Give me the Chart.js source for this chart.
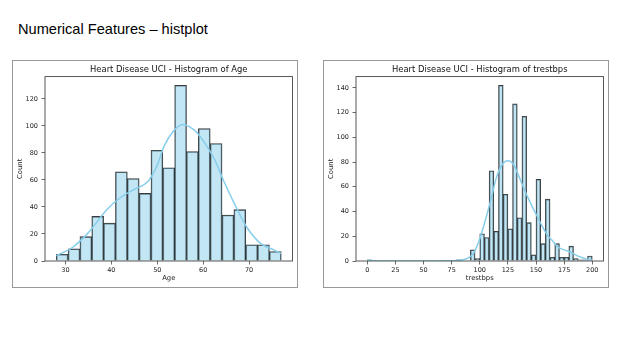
<!DOCTYPE html>
<html>
<head>
<meta charset="utf-8">
<script src="https://cdn.jsdelivr.net/npm/chart.js@4.4.0/dist/chart.umd.min.js"></script>
<style>
body { margin: 0; background: #fff; width: 638px; height: 359px; overflow: hidden; position: relative; font-family: "Liberation Sans", Arial, sans-serif; }
#pageTitle { position: absolute; left: 18px; top: 22px; font-size: 14.6px; line-height: 15px; color: #000; white-space: nowrap; }
.box { position: absolute; top: 60px; width: 284px; height: 226px; border: 1px solid #999; }
.box canvas { display: block; }
</style>
</head>
<body>
<div id="pageTitle">Numerical Features – histplot</div>
<div class="box" style="left:12px"><canvas id="ageHist" width="284" height="226"></canvas></div>
<div class="box" style="left:323px"><canvas id="bpsHist" width="284" height="226"></canvas></div>
<script>
// Age histogram: 19 bins from 28 to 77
const ageBinStart = 28;
const ageBinWidth = 49 / 19;
const ageCounts = [5, 9, 18, 33, 28, 66, 61, 50, 82, 69, 130, 81, 98, 87, 34, 38, 12, 12, 7];
const ageKdeX = [28, 31.5, 35, 39, 42, 45, 48, 50, 51.5, 53.5, 55.5, 58, 60, 62.5, 64.5, 67, 69.5, 72.5, 75.5, 77];
const ageKdeY = [4, 10, 21, 38, 47, 53, 59, 71, 85, 96, 101, 97, 89, 75, 59, 41, 25, 13, 8, 5.5];

// trestbps histogram: 48 bins from 0 to 200
const bpsBinStart = 0;
const bpsBinWidth = 200 / 48;
const bpsCounts = [1, 0, 0, 0, 0, 0, 0, 0, 0, 0, 0, 0, 0, 0, 0, 0, 0, 0, 0, 1,
    0, 0, 9, 2, 22, 19, 73, 24, 142, 54, 26, 127, 35, 117, 31, 5, 66, 14, 50, 3,
    14, 3, 3, 12, 2, 1, 1, 4];
const bpsKdeX = [0, 5, 10, 40, 75, 80, 85, 90, 95, 100, 105, 110, 115, 120, 125, 130, 135, 140, 145, 150, 155, 160, 165, 170, 175, 180, 185, 190, 195, 200];
const bpsKdeY = [0.6, 0.3, 0.05, 0, 0.2, 0.5, 1, 2.5, 7, 18, 33, 50, 68, 78, 81, 78, 68, 57, 47, 38, 29, 21, 16, 11, 9, 7.5, 5, 3, 1.5, 0.7];

const ageTicks = { min: 25.55, max: 79.45, step: 10 };
const ageCountTicks = { max: 136.5, step: 20 };
const bpsTicks = { min: -10, max: 210, step: 25 };
const bpsCountTicks = { max: 149.1, step: 20 };

Chart.defaults.font.family = "'DejaVu Sans', sans-serif";
Chart.defaults.color = '#222';

const frame = {
    id: 'frame',
    afterDatasetsDraw(chart) {
        const { ctx, chartArea: a } = chart;
        ctx.save();
        ctx.strokeStyle = '#444';
        ctx.lineWidth = 0.9;
        ctx.strokeRect(a.left, a.top, a.right - a.left, a.bottom - a.top);
        ctx.restore();
    }
};

function histConfig(title, xLabel, binStart, binWidth, counts, kdeX, kdeY, xt, yt) {
    const bars = counts.map((c, i) => ({ x: binStart + (i + 0.5) * binWidth, y: c }));
    const kde = kdeX.map((x, i) => ({ x: x, y: kdeY[i] }));
    const tickGrid = { drawOnChartArea: false, drawTicks: true, tickLength: 3.5, color: '#444', lineWidth: 0.8, offset: false };
    return {
        type: 'bar',
        data: {
            datasets: [
                {
                    type: 'line',
                    data: kde,
                    borderColor: '#87CEEB',
                    borderWidth: 1.5,
                    pointRadius: 0,
                    fill: false,
                    cubicInterpolationMode: 'monotone',
                    order: 0,
                },
                {
                    type: 'bar',
                    data: bars,
                    backgroundColor: 'rgba(135,206,235,0.5)',
                    borderColor: 'rgba(25,25,25,0.85)',
                    borderWidth: 0.9,
                    barPercentage: 1,
                    categoryPercentage: 1,
                    order: 1,
                },
            ],
        },
        options: {
            responsive: false,
            animation: false,
            layout: { padding: { left: 0, right: 4.5, top: 0, bottom: 0 } },
            plugins: {
                legend: { display: false },
                tooltip: { enabled: false },
                title: {
                    display: true,
                    fullSize: false,
                    text: title,
                    color: '#111',
                    font: { size: 8.4, weight: 'normal' },
                    padding: { top: 4, bottom: 1.5 },
                },
            },
            scales: {
                x: {
                    type: 'linear',
                    min: xt.min,
                    max: xt.max,
                    offset: false,
                    grid: tickGrid,
                    border: { display: false },
                    ticks: { stepSize: xt.step, includeBounds: false, font: { size: 6.5 }, padding: 1.5, maxRotation: 0 },
                    title: { display: true, text: xLabel, font: { size: 6.8 }, padding: { top: 0, bottom: 4.5 } },
                    afterFit: (s) => { s.height = 26; },
                },
                y: {
                    min: 0,
                    max: yt.max,
                    grid: tickGrid,
                    border: { display: false },
                    ticks: { stepSize: yt.step, includeBounds: false, font: { size: 6.5 }, padding: 3.5 },
                    title: { display: true, text: 'Count', font: { size: 6.8 }, padding: { top: 3, bottom: 0 } },
                    afterFit: (s) => { s.width = 32; },
                },
            },
        },
        plugins: [frame],
    };
}

const ageHistChart = new Chart(document.getElementById('ageHist'),
    histConfig('Heart Disease UCI - Histogram of Age', 'Age', ageBinStart, ageBinWidth, ageCounts, ageKdeX, ageKdeY, ageTicks, ageCountTicks));
const bpsHistChart = new Chart(document.getElementById('bpsHist'),
    histConfig('Heart Disease UCI - Histogram of trestbps', 'trestbps', bpsBinStart, bpsBinWidth, bpsCounts, bpsKdeX, bpsKdeY, bpsTicks, bpsCountTicks));
</script>
</body>
</html>
